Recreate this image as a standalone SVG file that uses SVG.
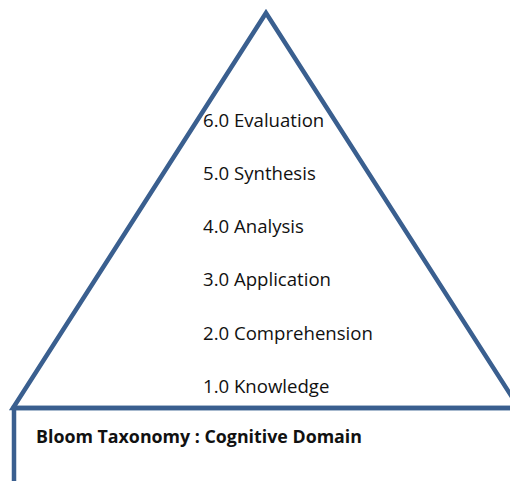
<svg xmlns="http://www.w3.org/2000/svg" width="510" height="481" viewBox="0 0 510 481">
<style>
.ln{fill:none;stroke:#3A5F8F;stroke-width:4.5;stroke-linejoin:miter}
.lv{font-family:"Open Sans","Liberation Sans",sans-serif;font-size:18.6px;fill:#111}
.tt{font-family:"Open Sans","Liberation Sans",sans-serif;font-size:17px;font-weight:bold;fill:#111}
</style>
<rect width="510" height="481" fill="#fff"/>
<g id="pyramid">
<polygon class="ln" points="266,13 519,408 13,408"/>
</g>
<g id="base">
<polyline class="ln" points="14,481 14,408 515,408"/>
</g>
<g id="levels">
<text class="lv" x="203" y="127">6.0 Evaluation</text>
<text class="lv" x="203" y="180">5.0 Synthesis</text>
<text class="lv" x="203" y="233">4.0 Analysis</text>
<text class="lv" x="203" y="286">3.0 Application</text>
<text class="lv" x="203" y="340">2.0 Comprehension</text>
<text class="lv" x="203" y="393">1.0 Knowledge</text>
</g>
<g id="title">
<text class="tt" x="36" y="443" textLength="326" lengthAdjust="spacingAndGlyphs">Bloom Taxonomy : Cognitive Domain</text>
</g>
<g id="connectors"></g>
</svg>
